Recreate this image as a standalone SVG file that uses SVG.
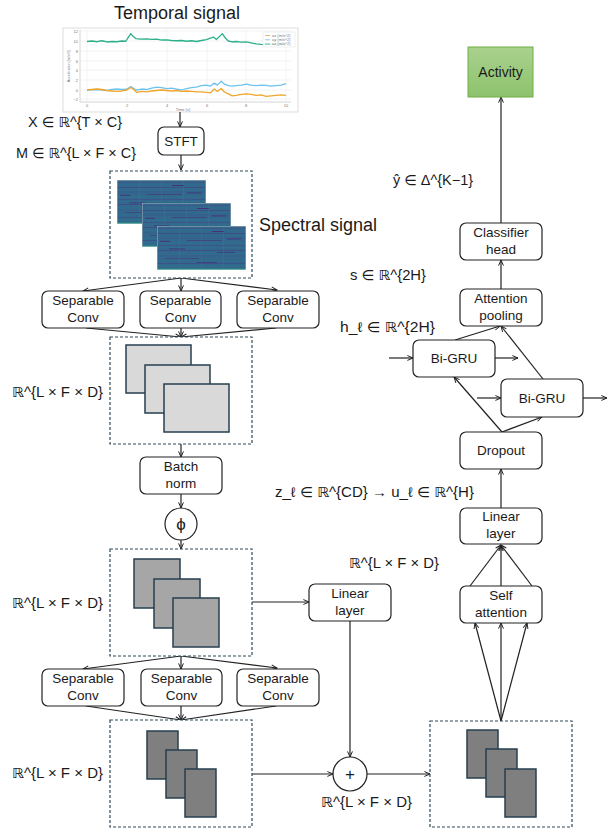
<svg xmlns="http://www.w3.org/2000/svg" width="611" height="829" viewBox="0 0 611 829">
<style>
.t{font-family:"Liberation Sans",Arial,"DejaVu Sans",sans-serif;fill:#1a1a1a}
.lbl{font-size:14px}
.bt{font-size:13.5px;text-anchor:middle}
.box{fill:#fff;stroke:#222;stroke-width:1.2}
.dash{fill:#fff;stroke:#2f4858;stroke-width:1.2;stroke-dasharray:3 2}
.c{fill:none;stroke:#222;stroke-width:1.2;marker-end:url(#ah)}
.f1{fill:#d9d9d9;stroke:#263f4f;stroke-width:1.5}
.f2{fill:#a6a6a6;stroke:#263f4f;stroke-width:1.5}
.f3{fill:#7f7f7f;stroke:#263f4f;stroke-width:1.5}
.grid{stroke:#ebebeb;stroke-width:0.6}
.tick{font-family:"Liberation Sans",Arial,sans-serif;font-size:4px;fill:#777}
</style>
<defs>
<marker id="ah" viewBox="0 0 10 10" refX="9" refY="5" markerWidth="7" markerHeight="7" orient="auto" markerUnits="userSpaceOnUse">
<path d="M1,1.5 L9,5 L1,8.5" fill="none" stroke="#222" stroke-width="1.4"/>
</marker>
<linearGradient id="grn" x1="0" y1="0" x2="0" y2="1">
<stop offset="0" stop-color="#a9d18e"/>
<stop offset="1" stop-color="#8dc36c"/>
</linearGradient>
<symbol id="spec" viewBox="0 0 89 44" preserveAspectRatio="none">
<rect x="0" y="0" width="89" height="44" fill="#33688c"/>
<rect x="0" y="2" width="89" height="1" fill="#3a5a8a"/>
<rect x="0" y="4.5" width="89" height="0.8" fill="#2e6f8d"/>
<rect x="0" y="7" width="89" height="1" fill="#3c5088"/>
<rect x="0" y="9.5" width="89" height="0.7" fill="#2f6e8d"/>
<rect x="0" y="11.5" width="89" height="1" fill="#375d8b"/>
<rect x="30" y="14" width="35" height="0.9" fill="#41437f"/>
<rect x="0" y="16.5" width="89" height="1" fill="#2f718d"/>
<rect x="0" y="19" width="89" height="1" fill="#3a568a"/>
<rect x="0" y="21.5" width="89" height="0.7" fill="#2e718d"/>
<rect x="0" y="24" width="89" height="1" fill="#3c4f88"/>
<rect x="0" y="27" width="89" height="0.8" fill="#2f6f8d"/>
<rect x="0" y="29.5" width="89" height="1" fill="#375e8b"/>
<rect x="8" y="32" width="34" height="0.8" fill="#414380"/>
<rect x="0" y="34.5" width="89" height="1" fill="#2f6f8d"/>
<rect x="0" y="37" width="89" height="1" fill="#3a5389"/>
<rect x="0" y="39.5" width="89" height="0.8" fill="#2d738d"/>
<rect x="55" y="5" width="12" height="1" fill="#46307c"/>
<rect x="70" y="12.5" width="14" height="0.9" fill="#45337d"/>
<rect x="12" y="22.5" width="16" height="0.8" fill="#46307c"/>
<rect x="60" y="26" width="18" height="0.8" fill="#43397f"/>
<rect x="3" y="14.8" width="10" height="1" fill="#45337d"/>
<rect x="40" y="36" width="20" height="0.8" fill="#45337d"/>
<rect x="22" y="0" width="0.6" height="44" fill="#6a98b0" opacity="0.2"/>
<rect x="44" y="0" width="0.6" height="44" fill="#6a98b0" opacity="0.2"/>
<rect x="66" y="0" width="0.6" height="44" fill="#6a98b0" opacity="0.2"/>
<rect x="0" y="42.6" width="89" height="1.4" fill="#2a9a8a"/>
<rect x="0" y="0" width="89" height="44" fill="none" stroke="#c8c8c8" stroke-width="0.8"/>
</symbol>
</defs>
<rect x="0" y="0" width="611" height="829" fill="#fff"/>

<g id="temporal-signal">
<text class="t" x="177" y="19" font-size="18" text-anchor="middle">Temporal signal</text>
<rect x="63" y="28" width="235" height="84" fill="#fff" stroke="#d4d4d4" stroke-width="0.8"/>
<g>
<line class="grid" x1="80" y1="31" x2="291" y2="31"/>
<line class="grid" x1="80" y1="41" x2="291" y2="41"/>
<line class="grid" x1="80" y1="51" x2="291" y2="51"/>
<line class="grid" x1="80" y1="61" x2="291" y2="61"/>
<line class="grid" x1="80" y1="70" x2="291" y2="70"/>
<line class="grid" x1="80" y1="80" x2="291" y2="80"/>
<line class="grid" x1="80" y1="90" x2="291" y2="90"/>
<line class="grid" x1="80" y1="99" x2="291" y2="99"/>
<line class="grid" x1="87" y1="30" x2="87" y2="102"/>
<line class="grid" x1="127" y1="30" x2="127" y2="102"/>
<line class="grid" x1="167" y1="30" x2="167" y2="102"/>
<line class="grid" x1="207" y1="30" x2="207" y2="102"/>
<line class="grid" x1="246" y1="30" x2="246" y2="102"/>
<line class="grid" x1="286" y1="30" x2="286" y2="102"/>
<polyline points="80,30 80,102 291,102" fill="none" stroke="#bbb" stroke-width="0.6"/>
</g>
<g class="tick" text-anchor="end">
<text x="78" y="32.5">12</text><text x="78" y="42.5">10</text><text x="78" y="52.5">8</text><text x="78" y="62.5">6</text><text x="78" y="71.5">4</text><text x="78" y="81.5">2</text><text x="78" y="91.5">0</text><text x="78" y="100.5">−2</text>
</g>
<g class="tick" text-anchor="middle">
<text x="87" y="106.5">0</text><text x="127" y="106.5">2</text><text x="167" y="106.5">4</text><text x="207" y="106.5">6</text><text x="246" y="106.5">8</text><text x="286" y="106.5">10</text>
<text x="183" y="110.5">Time (s)</text>
<text transform="translate(70,66) rotate(-90)" font-size="3.6">Acceleration (m/s^2)</text>
</g>
<g transform="translate(87,90) scale(19.9,-4.9)" fill="none" stroke-linejoin="round">
<polyline vector-effect="non-scaling-stroke" stroke-width="1.3" stroke="#2bb08a" points="0,9.9 0.25,10 0.5,9.85 0.75,10.05 1,9.8 1.25,9.9 1.5,9.85 1.75,10 1.95,9.95 2.1,10.9 2.2,11.5 2.3,11 2.45,10.5 2.7,10.4 3,10.45 3.25,10.35 3.5,10.4 3.75,10.2 4,10.25 4.25,10.1 4.5,10.05 4.75,10.1 5,9.95 5.25,10.05 5.5,9.9 5.75,10.1 6,10.3 6.2,10.6 6.35,10.8 6.5,10.3 6.65,10.9 6.8,11.5 6.95,10.6 7.1,10 7.3,9.8 7.5,9.9 7.75,9.75 8,9.8 8.25,9.6 8.5,9.4 8.75,9.3 9,9.25 9.25,9.3 9.5,9.2 9.75,9.25 10,9.2"/>
<polyline vector-effect="non-scaling-stroke" stroke-width="1.3" stroke="#6cc3ee" points="0,0 0.25,0.05 0.5,0.1 0.75,0 1,-0.1 1.25,0.1 1.5,0.2 1.75,0.1 2,0.15 2.2,0.7 2.35,0.3 2.5,0 2.75,0.2 3,0.1 3.25,0.4 3.5,0.6 3.75,0.5 4,0.3 4.25,0.4 4.5,0.2 4.75,0 5,0.3 5.25,0.5 5.5,0.6 5.75,0.9 6,1 6.2,0.8 6.4,1.4 6.55,1 6.75,1.8 6.9,1.2 7.1,0.9 7.3,0.8 7.5,0.9 7.75,1 8,1.2 8.25,1 8.5,0.9 8.75,1 9,0.95 9.25,0.8 9.5,0.9 9.75,1 10,1.3"/>
<polyline vector-effect="non-scaling-stroke" stroke-width="1.3" stroke="#f0a52c" points="0,0 0.25,0.1 0.5,0.2 0.75,0.1 1,-0.1 1.25,-0.2 1.5,-0.3 1.75,-0.2 2,0 2.2,0.5 2.35,0.1 2.5,-0.5 2.75,-0.3 3,-0.4 3.25,-0.2 3.5,-0.1 3.75,0 4,-0.1 4.25,-0.2 4.5,-0.1 4.75,-0.3 5,-0.2 5.25,-0.3 5.5,-0.4 5.75,-0.4 6,-0.5 6.2,-0.6 6.4,0.2 6.55,-0.3 6.75,0.3 6.9,-0.4 7.1,-0.8 7.3,-1.2 7.5,-1.1 7.75,-0.9 8,-0.8 8.25,-0.9 8.5,-1.1 8.75,-1 9,-1.3 9.25,-1.2 9.5,-1.1 9.75,-1 10,-1.1"/>
</g>
<rect x="263" y="32" width="32" height="15" fill="#fff" fill-opacity="0.85" stroke="#e0e0e0" stroke-width="0.5"/>
<line x1="265" y1="35.5" x2="270" y2="35.5" stroke="#f0a52c" stroke-width="0.8"/>
<line x1="265" y1="39.8" x2="270" y2="39.8" stroke="#6cc3ee" stroke-width="0.8"/>
<line x1="265" y1="44" x2="270" y2="44" stroke="#2bb08a" stroke-width="0.8"/>
<text class="tick" x="272" y="36.6" font-size="3">ax (m/s^2)</text>
<text class="tick" x="272" y="40.9" font-size="3">ay (m/s^2)</text>
<text class="tick" x="272" y="45.1" font-size="3">az (m/s^2)</text>
</g>

<g id="labels">
<text class="t lbl" x="28" y="127" textLength="94" lengthAdjust="spacingAndGlyphs">X ∈ ℝ^{T × C}</text>
<text class="t lbl" x="16" y="158" textLength="120" lengthAdjust="spacingAndGlyphs">M ∈ ℝ^{L × F × C}</text>
<text class="t" x="259" y="231" font-size="18">Spectral signal</text>
<text class="t lbl" x="12" y="397" textLength="91" lengthAdjust="spacingAndGlyphs">ℝ^{L × F × D}</text>
<text class="t lbl" x="12" y="608" textLength="91" lengthAdjust="spacingAndGlyphs">ℝ^{L × F × D}</text>
<text class="t lbl" x="12" y="778" textLength="91" lengthAdjust="spacingAndGlyphs">ℝ^{L × F × D}</text>
<text class="t lbl" x="349" y="568" textLength="90" lengthAdjust="spacingAndGlyphs">ℝ^{L × F × D}</text>
<text class="t lbl" x="321" y="807" textLength="91" lengthAdjust="spacingAndGlyphs">ℝ^{L × F × D}</text>
<text class="t lbl" x="393" y="185" textLength="80" lengthAdjust="spacingAndGlyphs">ŷ ∈ Δ^{K−1}</text>
<text class="t lbl" x="350" y="280" textLength="76" lengthAdjust="spacingAndGlyphs">s ∈ ℝ^{2H}</text>
<text class="t lbl" x="340" y="332" textLength="95" lengthAdjust="spacingAndGlyphs">h_ℓ ∈ ℝ^{2H}</text>
<text class="t lbl" x="275" y="497" textLength="199" lengthAdjust="spacingAndGlyphs">z_ℓ ∈ ℝ^{CD} → u_ℓ ∈ ℝ^{H}</text>
</g>

<g id="connectors">
<line class="c" x1="180" y1="112" x2="180" y2="127"/>
<line class="c" x1="181" y1="155" x2="181" y2="170"/>
<line class="c" x1="181" y1="278" x2="83" y2="291"/>
<line class="c" x1="181" y1="278" x2="181" y2="291"/>
<line class="c" x1="181" y1="278" x2="277" y2="290"/>
<line class="c" x1="86" y1="328" x2="181" y2="337"/>
<line class="c" x1="181" y1="328" x2="181" y2="337"/>
<line class="c" x1="276" y1="328" x2="181" y2="337"/>
<line class="c" x1="181" y1="444" x2="181" y2="457"/>
<line class="c" x1="181" y1="494" x2="181" y2="508"/>
<line class="c" x1="181" y1="540" x2="181" y2="549"/>
<line class="c" x1="181" y1="656" x2="83" y2="669"/>
<line class="c" x1="181" y1="656" x2="181" y2="669"/>
<line class="c" x1="181" y1="656" x2="277" y2="668"/>
<line class="c" x1="86" y1="706" x2="181" y2="720"/>
<line class="c" x1="181" y1="706" x2="181" y2="720"/>
<line class="c" x1="276" y1="706" x2="181" y2="720"/>
<line class="c" x1="252" y1="602" x2="309" y2="602"/>
<line class="c" x1="350" y1="621" x2="350" y2="757"/>
<line class="c" x1="252" y1="774" x2="333" y2="774"/>
<line class="c" x1="367" y1="774" x2="430" y2="774"/>
<line class="c" x1="501" y1="721" x2="475" y2="623"/>
<line class="c" x1="501" y1="721" x2="501" y2="623"/>
<line class="c" x1="501" y1="721" x2="527" y2="623"/>
<line class="c" x1="470" y1="586" x2="501" y2="545"/>
<line class="c" x1="501" y1="586" x2="501" y2="545"/>
<line class="c" x1="532" y1="586" x2="501" y2="545"/>
<line class="c" x1="501" y1="508" x2="501" y2="469"/>
<line class="c" x1="502" y1="432" x2="454" y2="377"/>
<line class="c" x1="502" y1="432" x2="542" y2="417"/>
<line class="c" x1="389" y1="358" x2="413" y2="358"/>
<line class="c" x1="495" y1="358" x2="518" y2="358"/>
<line class="c" x1="477" y1="398" x2="501" y2="398"/>
<line class="c" x1="583" y1="398" x2="607" y2="398"/>
<line class="c" x1="455" y1="340" x2="500" y2="326"/>
<line class="c" x1="543" y1="379" x2="501" y2="326"/>
<line class="c" x1="501" y1="289" x2="501" y2="260"/>
<line class="c" x1="501" y1="223" x2="501" y2="97"/>
</g>

<g id="stft"><rect class="box" x="158" y="127" width="46" height="28" rx="6"/><text class="t bt" x="181" y="146">STFT</text></g>

<g id="spectral-block">
<rect class="dash" x="110" y="171" width="142" height="107"/>
<use href="#spec" x="117" y="180" width="89" height="44"/>
<use href="#spec" x="142" y="203" width="89" height="44"/>
<use href="#spec" x="157" y="226" width="89" height="44"/>
</g>

<g id="sepconv-1a"><rect class="box" x="42" y="291" width="82" height="37" rx="6"/><text class="t bt" x="83" y="305">Separable</text><text class="t bt" x="83" y="322">Conv</text></g>
<g id="sepconv-1b"><rect class="box" x="140" y="291" width="81" height="37" rx="6"/><text class="t bt" x="180.5" y="305">Separable</text><text class="t bt" x="180.5" y="322">Conv</text></g>
<g id="sepconv-1c"><rect class="box" x="237" y="291" width="82" height="37" rx="6"/><text class="t bt" x="278" y="305">Separable</text><text class="t bt" x="278" y="322">Conv</text></g>

<g id="feature-block-1">
<rect class="dash" x="110" y="337" width="142" height="107"/>
<rect class="f1" x="126" y="345" width="65" height="48"/>
<rect class="f1" x="145" y="365" width="65" height="48"/>
<rect class="f1" x="164" y="384" width="65" height="48"/>
</g>

<g id="batch-norm"><rect class="box" x="140" y="457" width="82" height="37" rx="6"/><text class="t bt" x="181" y="471">Batch</text><text class="t bt" x="181" y="488">norm</text></g>

<g id="phi"><circle cx="181" cy="524" r="16" fill="#fff" stroke="#222" stroke-width="1.2"/><text class="t" x="181" y="530" font-size="17" text-anchor="middle">ϕ</text></g>

<g id="feature-block-2">
<rect class="dash" x="110" y="549" width="142" height="107"/>
<rect class="f2" x="134" y="559" width="46" height="49"/>
<rect class="f2" x="154" y="579" width="46" height="49"/>
<rect class="f2" x="173" y="598" width="46" height="49"/>
</g>

<g id="sepconv-2a"><rect class="box" x="42" y="669" width="82" height="37" rx="6"/><text class="t bt" x="83" y="683">Separable</text><text class="t bt" x="83" y="700">Conv</text></g>
<g id="sepconv-2b"><rect class="box" x="141" y="669" width="81" height="37" rx="6"/><text class="t bt" x="181.5" y="683">Separable</text><text class="t bt" x="181.5" y="700">Conv</text></g>
<g id="sepconv-2c"><rect class="box" x="237" y="669" width="82" height="37" rx="6"/><text class="t bt" x="278" y="683">Separable</text><text class="t bt" x="278" y="700">Conv</text></g>

<g id="feature-block-3">
<rect class="dash" x="110" y="720" width="142" height="107"/>
<rect class="f3" x="147" y="731" width="31" height="48"/>
<rect class="f3" x="166" y="750" width="31" height="48"/>
<rect class="f3" x="185" y="769" width="31" height="48"/>
</g>

<g id="linear-left"><rect class="box" x="309" y="584" width="82" height="37" rx="6"/><text class="t bt" x="350" y="598">Linear</text><text class="t bt" x="350" y="615">layer</text></g>

<g id="plus"><circle cx="350" cy="774" r="17" fill="#fff" stroke="#222" stroke-width="1.2"/><text class="t" x="350" y="780" font-size="17" text-anchor="middle">+</text></g>

<g id="feature-block-4">
<rect class="dash" x="430" y="721" width="142" height="106"/>
<rect class="f3" x="467" y="730" width="31" height="48"/>
<rect class="f3" x="486" y="749" width="31" height="48"/>
<rect class="f3" x="505" y="769" width="31" height="48"/>
</g>

<g id="self-attention"><rect class="box" x="460" y="586" width="82" height="37" rx="6"/><text class="t bt" x="501" y="600">Self</text><text class="t bt" x="501" y="617">attention</text></g>
<g id="linear-right"><rect class="box" x="460" y="508" width="82" height="36" rx="6"/><text class="t bt" x="501" y="521">Linear</text><text class="t bt" x="501" y="538">layer</text></g>
<g id="dropout"><rect class="box" x="460" y="432" width="82" height="37" rx="6"/><text class="t bt" x="501" y="455">Dropout</text></g>
<g id="bigru-1"><rect class="box" x="413" y="340" width="82" height="37" rx="6"/><text class="t bt" x="454" y="363">Bi-GRU</text></g>
<g id="bigru-2"><rect class="box" x="501" y="379" width="82" height="38" rx="6"/><text class="t bt" x="542" y="403">Bi-GRU</text></g>
<g id="attention-pooling"><rect class="box" x="460" y="289" width="82" height="37" rx="6"/><text class="t bt" x="501" y="303">Attention</text><text class="t bt" x="501" y="320">pooling</text></g>
<g id="classifier-head"><rect class="box" x="460" y="223" width="82" height="37" rx="6"/><text class="t bt" x="501" y="237">Classifier</text><text class="t bt" x="501" y="254">head</text></g>
<g id="activity"><rect x="468" y="47" width="65" height="50" fill="url(#grn)" stroke="#70ad47" stroke-width="1"/><text class="t" x="500.5" y="77" font-size="14" text-anchor="middle">Activity</text></g>
</svg>
